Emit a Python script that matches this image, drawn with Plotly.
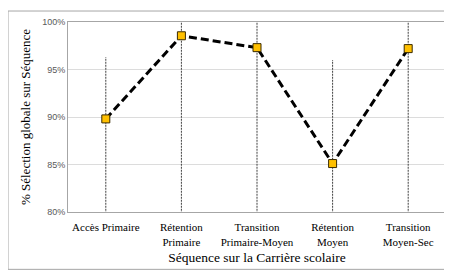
import plotly.graph_objects as go

categories = ["Accès Primaire", "Rétention<br>Primaire", "Transition<br>Primaire-Moyen",
              "Rétention<br>Moyen", "Transition<br>Moyen-Sec"]
selection_pct = [89.8, 98.55, 97.3, 85.1, 97.2]
dropline_top = [96.3, 100.2, 100.2, 96.0, 100.2]
dropline_bottom = 79.5
y_ticks = [80, 85, 90, 95, 100]
y_tick_labels = ["80%", "85%", "90%", "95%", "100%"]

xpos = list(range(len(categories)))

fig = go.Figure()
for x, t in zip(xpos, dropline_top):
    fig.add_trace(go.Scatter(x=[x, x], y=[dropline_bottom, t], mode="lines",
                             line=dict(color="#404040", width=1, dash="2px,1px"),
                             hoverinfo="skip", showlegend=False))
fig.add_trace(go.Scatter(x=xpos, y=selection_pct, mode="lines+markers",
                         line=dict(color="black", width=3, dash="8px,4px"),
                         marker=dict(symbol="square", size=8, color="#FFC000",
                                     line=dict(color="#3a2a00", width=1)),
                         cliponaxis=False, showlegend=False))

PW, PH = 378, 190.5
fig.update_layout(
    width=444, height=266, autosize=False,
    margin=dict(l=60, r=6, t=14, b=61.5, autoexpand=False),
    paper_bgcolor="white", plot_bgcolor="white",
    font=dict(family="Liberation Serif", color="black"),
    shapes=[dict(type="rect", xref="paper", yref="paper",
                 x0=-60/PW, x1=1 + 3/PW, y0=-57.5/PH, y1=1 + 11/PH,
                 line=dict(color="#a6a6a6", width=1), layer="below")],
    xaxis=dict(range=[-0.5, 4.5], tickvals=xpos, ticktext=categories,
               showgrid=False, showline=True, mirror=True, zeroline=False,
               linecolor="#a6a6a6", linewidth=1, ticks="", automargin=False,
               ticklabelstandoff=5,
               tickfont=dict(family="Liberation Serif", size=11, color="black"),
               title=dict(text="Séquence sur la Carrière scolaire",
                          font=dict(family="Liberation Serif", size=13.5, color="black"),
                          standoff=6)),
    yaxis=dict(range=[80, 100], tickvals=y_ticks, ticktext=y_tick_labels,
               showgrid=True, gridcolor="#dcdcdc", gridwidth=1,
               showline=True, mirror=True, linecolor="#a6a6a6", linewidth=1,
               zeroline=False, ticks="", automargin=False,
               tickfont=dict(family="Liberation Sans", size=9, color="#595959"),
               title=dict(text="% Sélection globale sur Séquence",
                          font=dict(family="Liberation Serif", size=13, color="black"),
                          standoff=8)),
)

fig.write_html("out.html")
